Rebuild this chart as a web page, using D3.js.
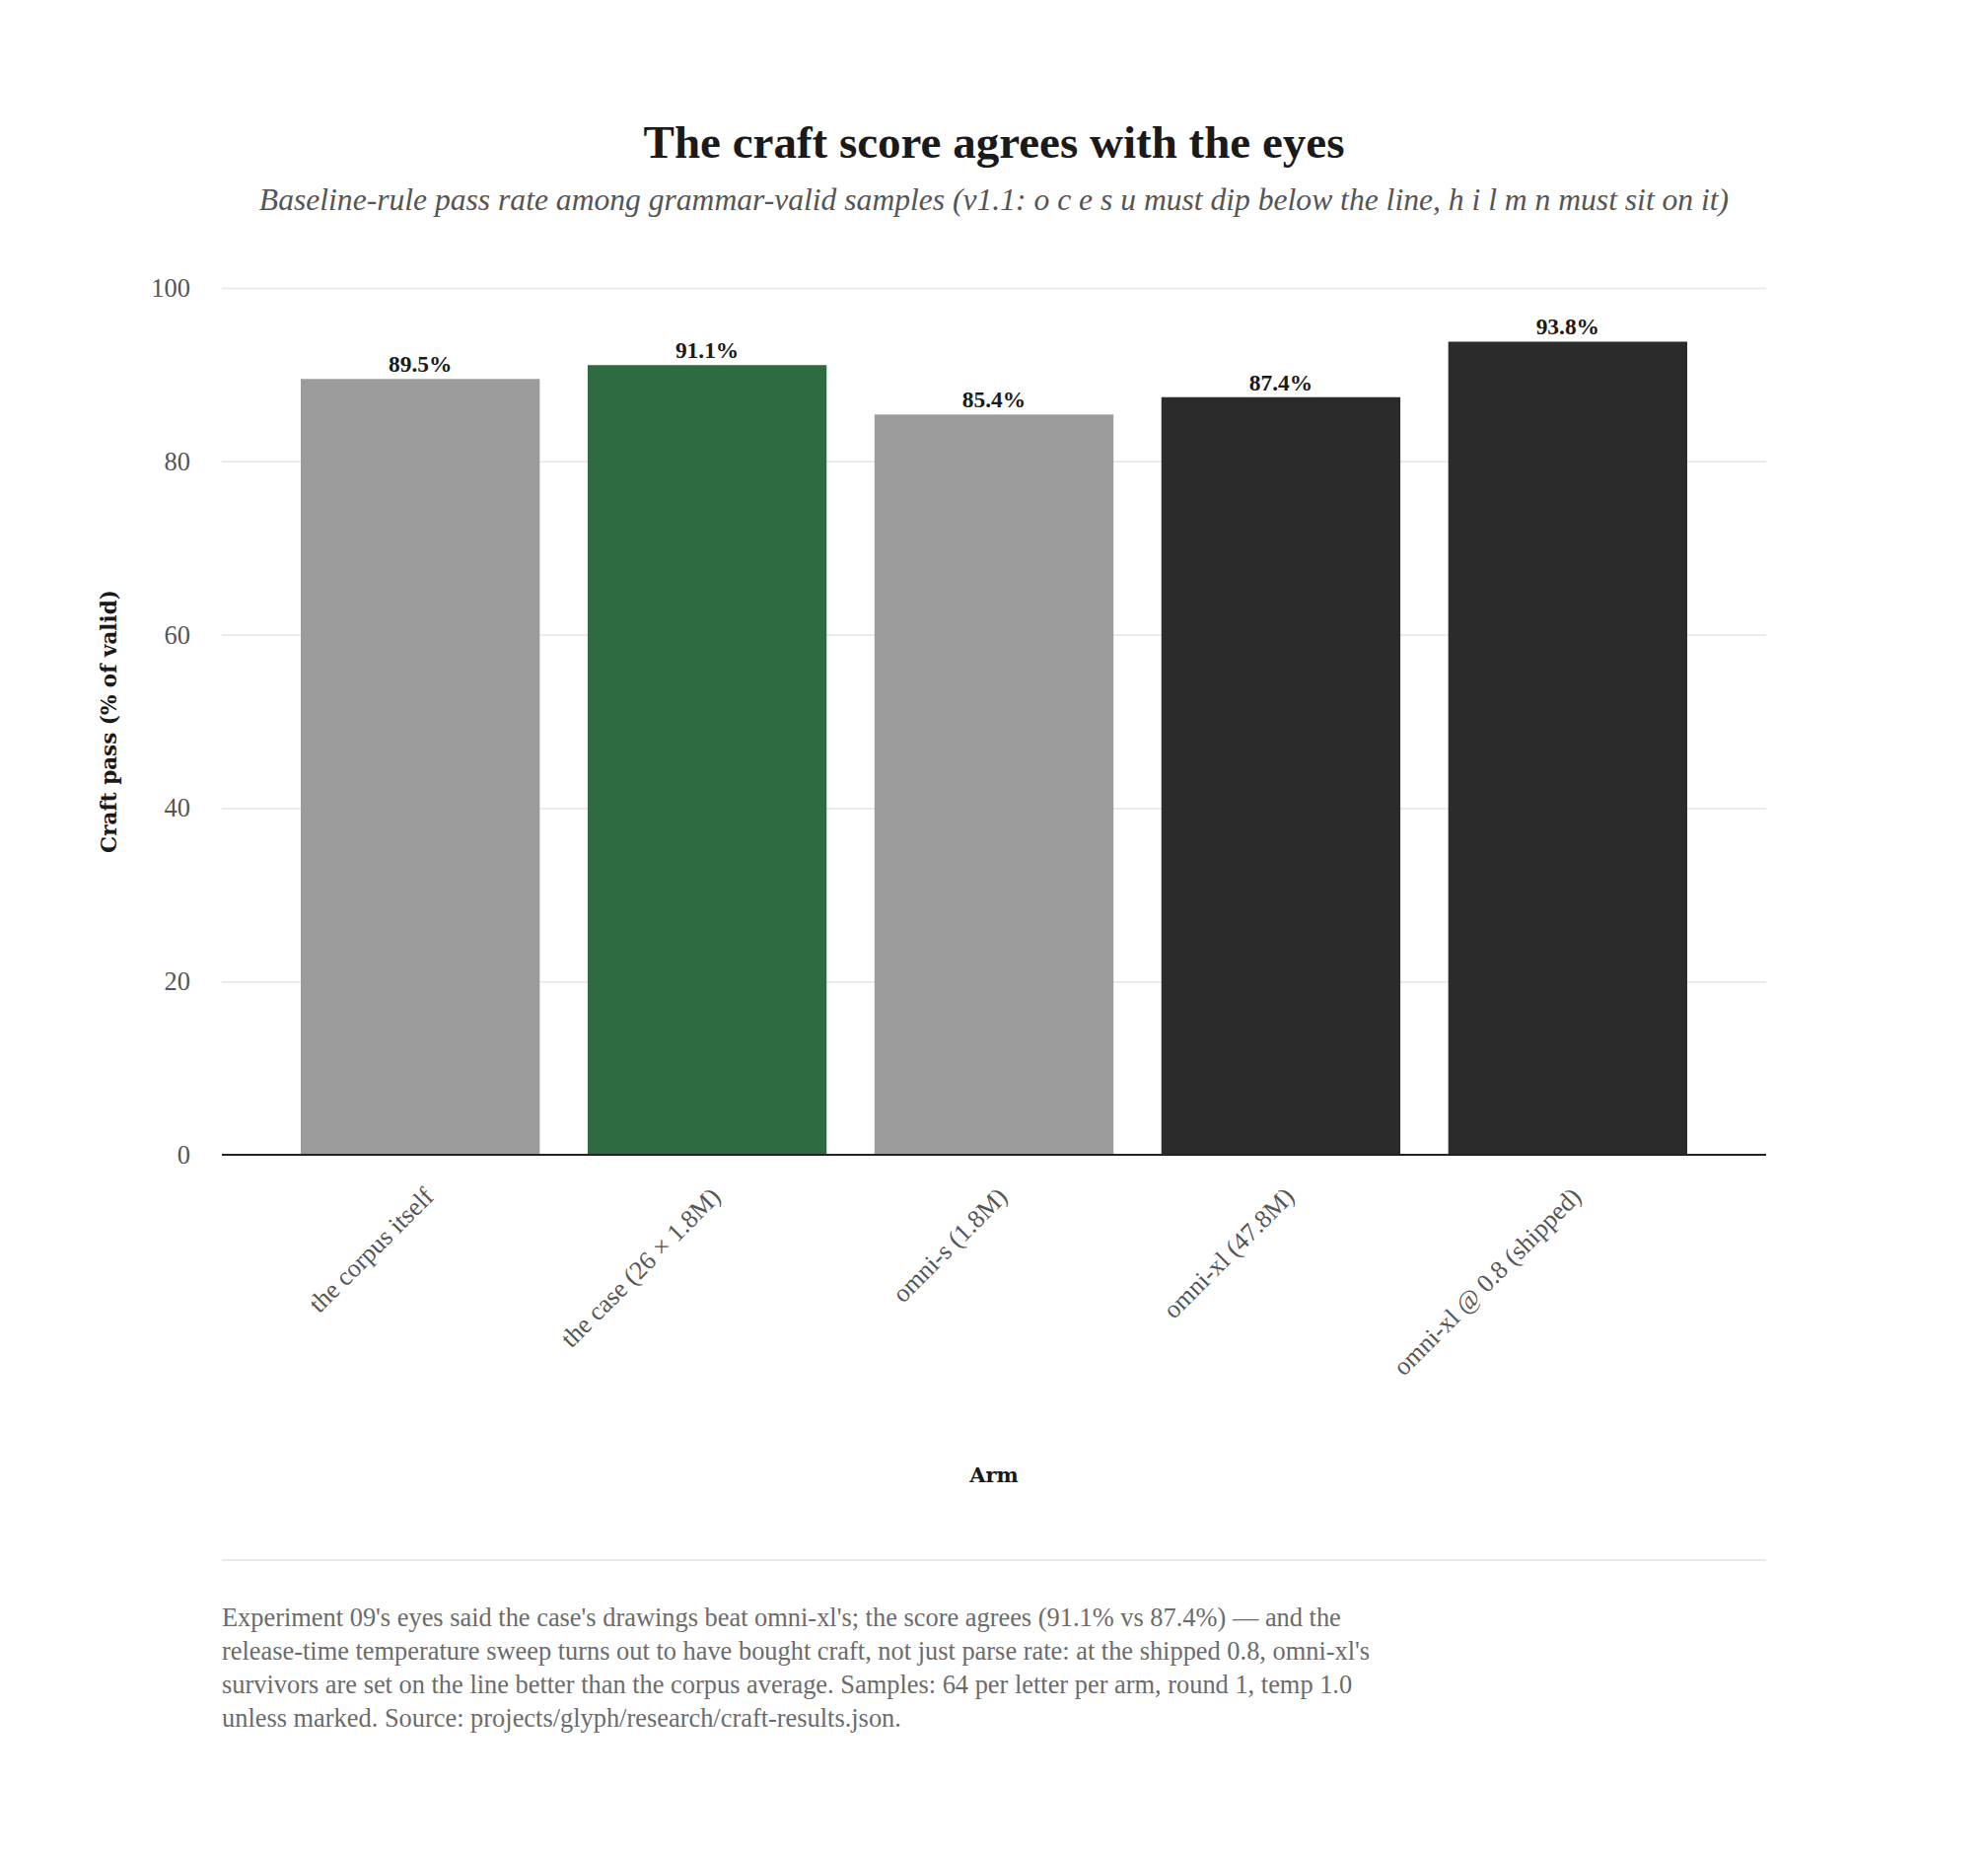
<!DOCTYPE html>
<html>
<head>
<meta charset="utf-8">
<script src="https://cdn.jsdelivr.net/npm/d3@7"></script>
<style>
  html, body { margin: 0; padding: 0; background: #ffffff; }
  svg { display: block; }
</style>
</head>
<body>
<svg id="chart" width="2016" height="1878"></svg>
<script>
// ---- data ----
const categories = ["the corpus itself", "the case (26 × 1.8M)", "omni-s (1.8M)", "omni-xl (47.8M)", "omni-xl @ 0.8 (shipped)"];
const values = [89.5, 91.1, 85.4, 87.4, 93.8];
const barColors = ["#9b9b9b", "#2f6b40", "#9b9b9b", "#2b2b2b", "#2b2b2b"];
const yTicks = [0, 20, 40, 60, 80, 100];
const titleText = "The craft score agrees with the eyes";
const subtitleText = "Baseline-rule pass rate among grammar-valid samples (v1.1: o c e s u must dip below the line, h i l m n must sit on it)";
const xAxisTitle = "Arm";
const yAxisTitle = "Craft pass (% of valid)";
const footnoteLines = [
  "Experiment 09's eyes said the case's drawings beat omni-xl's; the score agrees (91.1% vs 87.4%) — and the",
  "release-time temperature sweep turns out to have bought craft, not just parse rate: at the shipped 0.8, omni-xl's",
  "survivors are set on the line better than the corpus average. Samples: 64 per letter per arm, round 1, temp 1.0",
  "unless marked. Source: projects/glyph/research/craft-results.json."
];

// ---- layout ----
const W = 2016, H = 1878;
const plot = { left: 225, right: 1791, top: 292, bottom: 1171 };
const serif = "'Liberation Serif', 'DejaVu Serif', serif";
const slab = "'DejaVu Serif', serif";

const svg = d3.select("#chart");

const x = d3.scaleBand()
  .domain(categories)
  .range([plot.left, plot.right])
  .paddingInner(0.167)
  .paddingOuter(0.275);

const y = d3.scaleLinear().domain([0, 100]).range([plot.bottom, plot.top]);

// title
svg.append("text")
  .attr("x", W / 2).attr("y", 160)
  .attr("text-anchor", "middle")
  .attr("font-family", serif).attr("font-weight", "bold")
  .attr("font-size", 47).attr("fill", "#1a1a1a")
  .text(titleText);

svg.append("text")
  .attr("x", W / 2).attr("y", 213)
  .attr("text-anchor", "middle")
  .attr("font-family", serif).attr("font-style", "italic")
  .attr("font-size", 31.6).attr("fill", "#555555")
  .text(subtitleText);

// gridlines
const yAxis = d3.axisLeft(y).tickValues(yTicks).tickSize(-(plot.right - plot.left)).tickPadding(32);
const gy = svg.append("g").attr("transform", `translate(${plot.left},0)`).call(yAxis);
gy.select(".domain").remove();
gy.selectAll(".tick line").attr("stroke", "#e6e6e6").attr("stroke-width", 1.5);
gy.selectAll(".tick text")
  .attr("font-family", serif).attr("font-size", 26.5).attr("fill", "#555555");

// bars
svg.append("g").selectAll("rect")
  .data(categories)
  .join("rect")
  .attr("x", d => x(d))
  .attr("width", x.bandwidth())
  .attr("y", (d, i) => y(values[i]))
  .attr("height", (d, i) => y(0) - y(values[i]))
  .attr("fill", (d, i) => barColors[i]);

// value labels
svg.append("g").selectAll("text")
  .data(categories)
  .join("text")
  .attr("x", d => x(d) + x.bandwidth() / 2)
  .attr("y", (d, i) => y(values[i]) - 7)
  .attr("text-anchor", "middle")
  .attr("font-family", serif).attr("font-weight", "bold")
  .attr("font-size", 23.4).attr("fill", "#1a1a1a")
  .text((d, i) => values[i].toFixed(1) + "%");

// x axis
const xAxis = d3.axisBottom(x).tickSize(0).tickPadding(0);
const gx = svg.append("g").attr("transform", `translate(0,${plot.bottom})`).call(xAxis);
gx.select(".domain").attr("stroke", "#222222").attr("stroke-width", 2).attr("d", `M${plot.left},0H${plot.right}`);
gx.selectAll(".tick text")
  .attr("font-family", serif).attr("font-size", 26).attr("fill", "#555555")
  .attr("text-anchor", "end")
  .attr("dy", 0)
  .attr("y", 0)
  .attr("transform", "translate(15,44) rotate(-45)");

// axis titles
svg.append("text")
  .attr("x", (plot.left + plot.right) / 2).attr("y", 1503)
  .attr("text-anchor", "middle")
  .attr("font-family", slab).attr("font-weight", "bold")
  .attr("font-size", 21).attr("fill", "#1a1a1a")
  .text(xAxisTitle);

svg.append("text")
  .attr("transform", `translate(118,${(plot.top + plot.bottom) / 2}) rotate(-90)`)
  .attr("text-anchor", "middle")
  .attr("font-family", slab).attr("font-weight", "bold")
  .attr("font-size", 21.5).attr("fill", "#1a1a1a")
  .text(yAxisTitle);

// separator
svg.append("line")
  .attr("x1", plot.left).attr("x2", plot.right)
  .attr("y1", 1582).attr("y2", 1582)
  .attr("stroke", "#e2e2dc").attr("stroke-width", 1.5);

// footnote
svg.append("g").selectAll("text")
  .data(footnoteLines)
  .join("text")
  .attr("x", plot.left)
  .attr("y", (d, i) => 1649 + i * 34)
  .attr("font-family", serif).attr("font-size", 26.4).attr("fill", "#6b6b6b")
  .text(d => d);
</script>
</body>
</html>
